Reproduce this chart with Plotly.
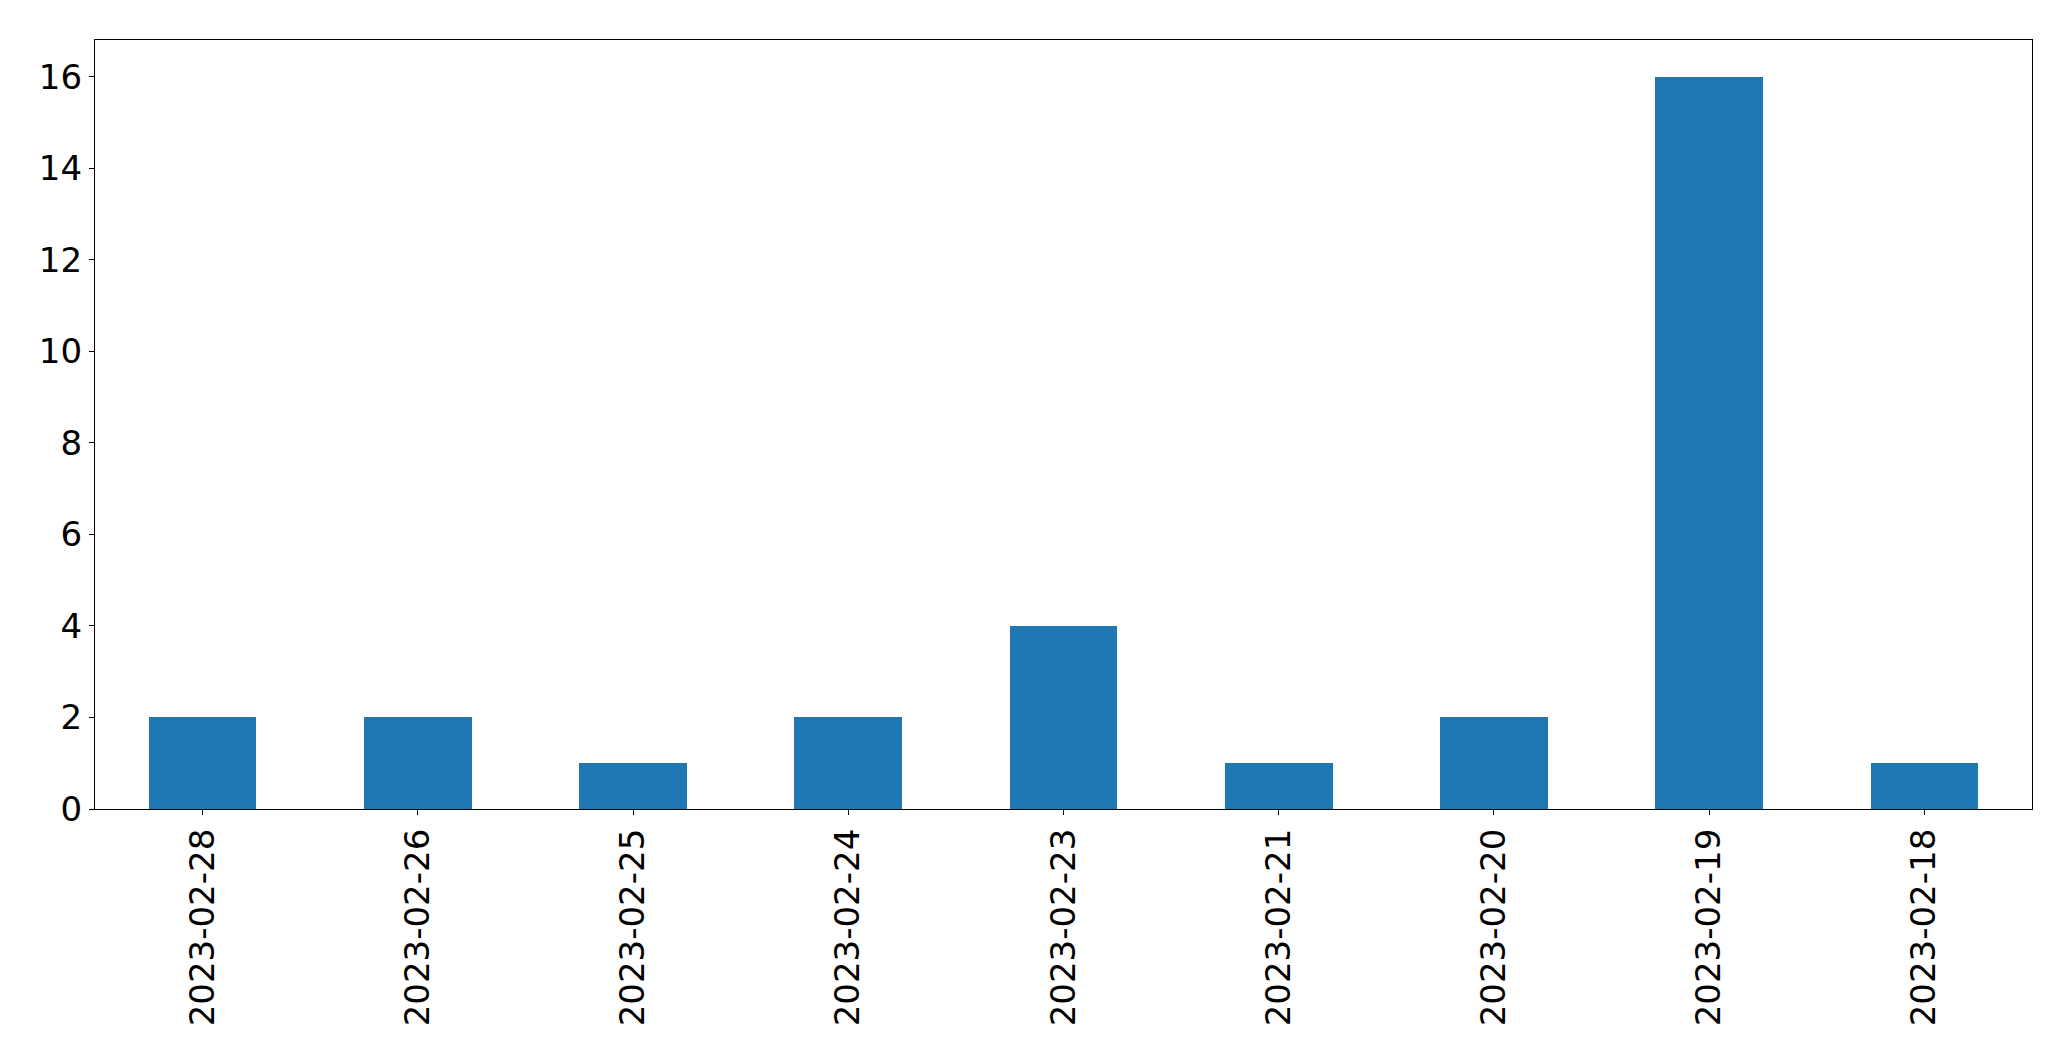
import plotly.graph_objects as go

dates = ["2023-02-28", "2023-02-26", "2023-02-25", "2023-02-24", "2023-02-23",
         "2023-02-21", "2023-02-20", "2023-02-19", "2023-02-18"]
counts = [2, 2, 1, 2, 4, 1, 2, 16, 1]

fig = go.Figure(go.Bar(x=list(range(len(dates))), y=counts, width=0.5,
                       marker=dict(color="#1f77b4", line=dict(width=0))))

W, H = 2071, 1061
OFF = 8  # default page body margin
L, R, T, B = 94.7, 2032, 39.5, 809

fig.update_layout(
    width=W - 2 * OFF, height=H - 2 * OFF,
    margin=dict(l=L - OFF, r=W - R - OFF, t=T - OFF, b=H - B - OFF, pad=0),
    paper_bgcolor="white", plot_bgcolor="white",
    font=dict(family="DejaVu Sans", size=34, color="black"),
    showlegend=False, bargap=0,
)
fig.update_xaxes(
    range=[-0.5, len(dates) - 0.5], tickmode="array",
    tickvals=list(range(len(dates))), ticktext=dates, tickangle=-90,
    ticks="outside", ticklen=5, tickwidth=1, tickcolor="black",
    showline=True, linecolor="black", linewidth=1.3, mirror=True,
    showgrid=False, zeroline=False, automargin=False,
)
fig.update_yaxes(
    range=[0, 16.8], tickvals=[0, 2, 4, 6, 8, 10, 12, 14, 16],
    ticks="outside", ticklen=5, tickwidth=1, tickcolor="black",
    showline=True, linecolor="black", linewidth=1.3, mirror=True,
    showgrid=False, zeroline=False, automargin=False,
)

fig.write_html("out.html")
